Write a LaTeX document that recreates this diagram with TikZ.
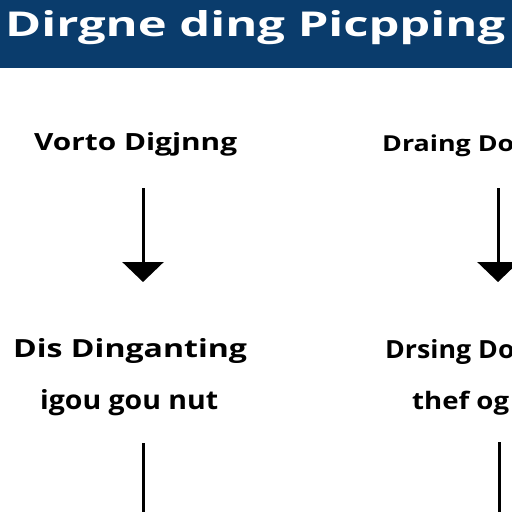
\documentclass[tikz,border=0pt]{standalone}
\usepackage{fontspec}
\setmainfont{Open Sans}
\usetikzlibrary{arrows.meta}
\definecolor{banner}{RGB}{10,60,108}
\begin{document}
\begin{tikzpicture}[x=1pt,y=-1pt,
  txt/.style={inner sep=0pt, anchor=base west, text=black, font=\bfseries},
  arr/.style={line width=3pt, -{Triangle[width=41pt,length=20pt]}},
  stem/.style={line width=3pt}]
\useasboundingbox (0,0) rectangle (512,512);
\clip (0,0) rectangle (512,512);
\fill[white] (0,0) rectangle (512,512);
\fill[banner] (0,0) rectangle (512,68);
\node[txt, text=white] (title) at (5,36) {\resizebox{500pt}{26pt}{Dirgne ding Picpping}};
% left column
\node[txt] (l1) at (34,150) {\resizebox{203pt}{18pt}{Vorto Digjnng}};
\node[txt] (l2) at (13,357) {\resizebox{234pt}{19pt}{Dis Dinganting}};
\node[txt] (l3) at (40,409) {\resizebox{178pt}{20pt}{igou gou nut}};
% right column
\node[txt] (r1) at (382,151) {\fontsize{22}{22}\selectfont\scalebox{1.22}[1]{Draing Do}};
\node[txt] (r2) at (385,358) {\fontsize{25}{25}\selectfont\scalebox{1.07}[1]{Drsing Do}};
\node[txt] (r3) at (412,409) {\fontsize{24}{24}\selectfont\scalebox{1.15}[1]{thef og}};
% connectors
\coordinate (la) at (143,188);
\coordinate (lb) at (143,282);
\coordinate (ra) at (498,188);
\coordinate (rb) at (498,282);
\coordinate (lc) at (143,443);
\coordinate (ld) at (143,520);
\coordinate (rc) at (499,442);
\coordinate (rd) at (499,520);
\draw[arr] (la) -- (lb);
\draw[arr] (ra) -- (rb);
\draw[stem] (lc) -- (ld);
\draw[stem] (rc) -- (rd);
\end{tikzpicture}
\end{document}
